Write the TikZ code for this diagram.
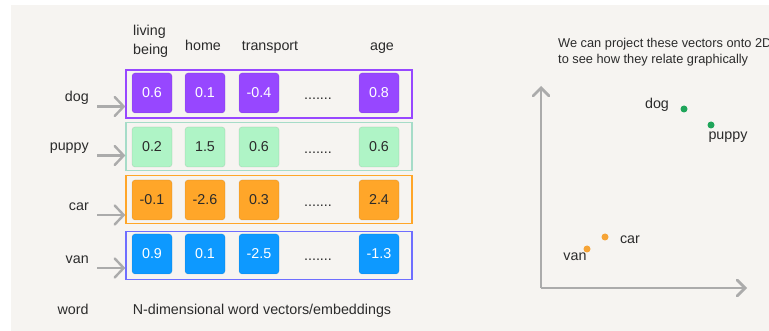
\documentclass[tikz,border=0pt]{standalone}
\usepackage{fontspec}
\setmainfont{Liberation Sans}
\usetikzlibrary{arrows.meta}
\definecolor{bgc}{HTML}{F6F4F1}
\definecolor{txt}{HTML}{2B2B2B}
\definecolor{axisgray}{HTML}{ABABAB}
\definecolor{purp}{HTML}{9747FF}
\definecolor{mint}{HTML}{AFF4C6}
\definecolor{mintedge}{HTML}{A6DCC8}
\definecolor{orng}{HTML}{FFA629}
\definecolor{blu}{HTML}{0D99FF}
\definecolor{bluedge}{HTML}{6E6EFF}
\definecolor{dotgreen}{HTML}{1FA55A}
\definecolor{dotorange}{HTML}{F6A436}
\begin{document}
\begin{tikzpicture}[x=1pt,y=-1pt,
  lab/.style={font=\fontsize{14.3}{16}\selectfont, text=txt, inner sep=0pt},
  small/.style={font=\fontsize{12.8}{15}\selectfont, text=txt, inner sep=0pt},
  rowbox/.style={draw=#1, line width=1.3pt, minimum width=286pt, minimum height=48pt, inner sep=0pt},
  cell/.style={rounded corners=3pt, minimum width=40pt, minimum height=40pt, inner sep=0pt,
    fill=#1, draw=black, draw opacity=0.08, line width=0.8pt,
    font=\fontsize{14.3}{16}\selectfont},
  feed/.style={draw=axisgray, line width=2.4pt,
    -{Straight Barb[length=9pt,width=19pt,line cap=round]}},
  axis/.style={draw=axisgray, line width=2.8pt,
    -{Straight Barb[length=8pt,width=16pt,line cap=round]}},
  pt/.style={circle, inner sep=0pt, minimum size=7pt, fill=#1}]
\useasboundingbox (0,0) rectangle (769,331);
\fill[white] (0,0) rectangle (769,331);
\fill[bgc] (11,5) rectangle (769,331);

% column headings (placed by baseline)
\node[lab, anchor=base west] (hliving) at (133,36) {living};
\node[lab, anchor=base west] (hbeing) at (133,55) {being};
\node[lab, anchor=base] (hhome) at (203,51) {home};
\node[lab, anchor=base] (htransport) at (270,51) {transport};
\node[lab, anchor=base] (hage) at (382,51) {age};

% row frames
\node[rowbox=purp] (rdog) at (269,94) {};
\node[rowbox=mintedge] (rpuppy) at (269,146.5) {};
\node[rowbox=orng] (rcar) at (269,199.5) {};
\node[rowbox=bluedge] (rvan) at (269,255.5) {};

% vector cells
\foreach \r/\y/\f/\t/\a/\b/\c/\d in {
  dog/93/purp/white/0.6/0.1/-0.4/0.8,
  puppy/147/mint/txt/0.2/1.5/0.6/0.6,
  car/200/orng/txt/-0.1/-2.6/0.3/2.4,
  van/254/blu/white/0.9/0.1/-2.5/-1.3}{
  \node[cell=\f, text=\t] (\r a) at (152,\y) {\a};
  \node[cell=\f, text=\t] (\r b) at (205,\y) {\b};
  \node[cell=\f, text=\t] (\r c) at (259,\y) {\c};
  \node[lab, anchor=base] (\r dots) at (318,\y+7) {.......};
  \node[cell=\f, text=\t] (\r d) at (379,\y) {\d};
}

% word labels (by baseline) and arrows into the rows
\node[lab, anchor=base east] (wdog) at (89,102) {dog};
\node[lab, anchor=base east] (wpuppy) at (89,151) {puppy};
\node[lab, anchor=base east] (wcar) at (89,210.5) {car};
\node[lab, anchor=base east] (wvan) at (89,263.5) {van};
\foreach \w in {dog,puppy,car,van}{
  \draw[feed] ([shift={(8pt,-4.5pt)}]w\w.base east) -- ([yshift=-4.5pt]r\w.west |- w\w.base east);
}

% footer
\node[lab, anchor=base] (fword) at (73,315) {word};
\node[lab, anchor=base] (fvec) at (262,315) {N-dimensional word vectors/embeddings};

% 2D projection
\node[small, anchor=base west] (note1) at (558,48) {We can project these vectors onto 2D};
\node[small, anchor=base west] (note2) at (558,64) {to see how they relate graphically};
\coordinate (origin) at (541,288);
\coordinate (ytop) at (541,86);
\coordinate (xend) at (747,288);
\draw[axis] (origin) -- (ytop);
\draw[axis] (origin) -- (xend);

\node[pt=dotgreen] (pdog) at (684,109) {};
\node[pt=dotgreen] (ppuppy) at (711,125) {};
\node[pt=dotorange] (pcar) at (605,237) {};
\node[pt=dotorange] (pvan) at (587,249) {};
\node[lab, anchor=base] (ldog) at (657,109) {dog};
\node[lab, anchor=base] (lpuppy) at (728,140) {puppy};
\node[lab, anchor=base] (lcar) at (630,244) {car};
\node[lab, anchor=base] (lvan) at (575,261) {van};
\end{tikzpicture}
\end{document}
